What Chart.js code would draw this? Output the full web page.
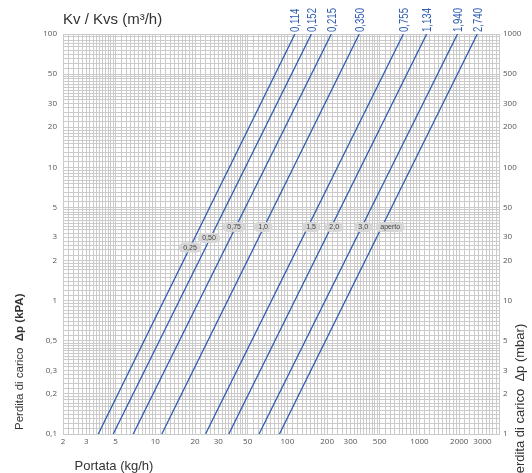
<!DOCTYPE html>
<html>
<head>
<meta charset="utf-8">
<script src="https://cdn.jsdelivr.net/npm/chart.js@4"></script>
<style>
  body { margin: 0; background: #fff; }
  #wrap { width: 532px; height: 473px; }
</style>
</head>
<body>
<div id="wrap"><canvas id="grafico" width="532" height="473"></canvas></div>
<script>
// Kv delle curve (etichette in alto) e portata letta agli estremi del grafico
const kvLabels = ["0,114", "0,152", "0,215", "0,350", "0,755", "1,134", "1,940", "2,740"];
const portataA01kPa = [3.7, 4.8, 6.8, 11.2, 24, 36, 61, 87];        // Δp = 0,1 kPa
const portataA100kPa = [114, 152, 215, 350, 755, 1134, 1940, 2740]; // Δp = 100 kPa

// posizioni del detentore (etichette grigie)
const posLabels = ["0,25", "0,50", "0,75", "1,0", "1,5", "2,0", "3,0", "aperto"];
const posPortata = [18.3, 25.5, 39.5, 65.5, 151, 226, 375, 600];
const posDp = [2.5, 2.95, 3.57, 3.57, 3.57, 3.57, 3.57, 3.57];

// etichette degli assi
const xTickLabels = [2, 3, 5, 10, 20, 30, 50, 100, 200, 300, 500, 1000, 2000, 3000];
const yTickLabels = [0.1, 0.2, 0.3, 0.5, 1, 2, 3, 5, 10, 20, 30, 50, 100];
const y1TickLabels = [1, 2, 3, 5, 10, 20, 30, 50, 100, 200, 300, 500, 1000];

const BLU = "#2f5db0";
const GRIGLIA = "#cbcbcb";

// linee della griglia: 1-2 ogni 0,1 / 2-5 ogni 0,2 / 5-10 ogni 0,5
function valoriGriglia(min, max) {
  const mant = [];
  for (let m = 10; m < 20; m += 1) mant.push(m);
  for (let m = 20; m < 50; m += 2) mant.push(m);
  for (let m = 50; m < 100; m += 5) mant.push(m);
  const out = [];
  for (let e = Math.floor(Math.log10(min)) - 1; e <= Math.ceil(Math.log10(max)); e++) {
    mant.forEach(m => {
      const v = Number((m * Math.pow(10, e - 1)).toPrecision(6));
      if (v >= min - 1e-9 && v <= max + 1e-9) out.push(v);
    });
  }
  return out;
}

function fmt(v) {
  return String(v).replace(".", ",");
}

function tickCallback(lista) {
  return function (value) {
    const v = Number(Number(value).toPrecision(6));
    return lista.includes(v) ? fmt(v) : "";
  };
}

const datasets = kvLabels.map((kv, i) => ({
  label: kv,
  data: [
    { x: portataA01kPa[i], y: 0.1 },
    { x: portataA100kPa[i], y: 100 }
  ],
  borderColor: BLU,
  borderWidth: 1.3,
  pointRadius: 0,
  fill: false,
  tension: 0,
  xAxisID: "x",
  yAxisID: "y"
}));

// testi extra: titoli, valori Kv, etichette posizione
const testiPlugin = {
  id: "testi",
  afterDatasetsDraw(chart) {
    const ctx = chart.ctx;
    const sx = chart.scales.x;
    const sy = chart.scales.y;
    const area = chart.chartArea;

    ctx.save();
    // etichette posizione
    ctx.font = "7px 'Liberation Sans', Arial, sans-serif";
    ctx.textAlign = "center";
    ctx.textBaseline = "middle";
    posLabels.forEach((t, i) => {
      const px = sx.getPixelForValue(posPortata[i]);
      const py = sy.getPixelForValue(posDp[i]);
      const w = ctx.measureText(t).width + 9;
      const h = 10;
      ctx.fillStyle = "#d6d6d6";
      ctx.beginPath();
      ctx.roundRect(px - w / 2, py - h / 2, w, h, 5);
      ctx.fill();
      ctx.fillStyle = "#444";
      ctx.fillText(t, px, py + 0.5);
    });

    // valori Kv in alto (testo stretto)
    ctx.fillStyle = BLU;
    ctx.font = "13px 'Liberation Sans', Arial, sans-serif";
    ctx.textAlign = "left";
    ctx.textBaseline = "middle";
    kvLabels.forEach((t, i) => {
      const px = sx.getPixelForValue(portataA100kPa[i]);
      ctx.save();
      ctx.translate(px + 1, area.top - 2);
      ctx.rotate(-Math.PI / 2);
      ctx.scale(0.74, 1);
      ctx.fillText(t, 0, 0);
      ctx.restore();
    });

    // titolo Kv / Kvs
    ctx.fillStyle = "#333";
    ctx.font = "15px 'Liberation Sans', Arial, sans-serif";
    ctx.textAlign = "left";
    ctx.textBaseline = "alphabetic";
    ctx.fillText("Kv / Kvs (m³/h)", 63, 24);

    // titolo asse x
    ctx.font = "13px 'Liberation Sans', Arial, sans-serif";
    ctx.textAlign = "center";
    ctx.fillText("Portata (kg/h)", 114, 470);

    // titolo asse y sinistro (parte in grassetto)
    ctx.save();
    ctx.translate(23, 430);
    ctx.rotate(-Math.PI / 2);
    ctx.textAlign = "left";
    ctx.font = "11.5px 'Liberation Sans', Arial, sans-serif";
    const t1 = "Perdita di carico  ";
    ctx.fillText(t1, 0, 0);
    const w1 = ctx.measureText(t1).width;
    ctx.font = "bold 11.5px 'Liberation Sans', Arial, sans-serif";
    ctx.fillText("Δp (kPA)", w1, 0);
    ctx.restore();

    // titolo asse y destro (tagliato in basso come nell'originale)
    ctx.save();
    ctx.translate(524, 482);
    ctx.rotate(-Math.PI / 2);
    ctx.textAlign = "left";
    ctx.font = "13px 'Liberation Sans', Arial, sans-serif";
    ctx.fillText("Perdita di carico  Δp (mbar)", 0, 0);
    ctx.restore();

    ctx.restore();
  }
};

const fontTick = { family: "'Open Sans', 'DejaVu Sans', sans-serif", size: 8 };

new Chart(document.getElementById("grafico").getContext("2d"), {
  type: "line",
  data: { datasets },
  options: {
    responsive: false,
    animation: false,
    layout: { padding: { top: 34, left: 0, right: 0, bottom: 0 } },
    plugins: {
      legend: { display: false },
      tooltip: { enabled: false }
    },
    scales: {
      x: {
        type: "logarithmic",
        min: 2,
        max: 4000,
        afterBuildTicks: s => { s.ticks = valoriGriglia(2, 4000).map(v => ({ value: v })); },
        afterFit: s => { s.height = 39; },
        ticks: {
          autoSkip: false,
          maxRotation: 0,
          color: "#555",
          font: fontTick,
          padding: 3,
          callback: tickCallback(xTickLabels)
        },
        grid: { color: GRIGLIA, lineWidth: 1, drawTicks: false },
        border: { color: GRIGLIA }
      },
      y: {
        type: "logarithmic",
        position: "left",
        min: 0.1,
        max: 100,
        afterBuildTicks: s => { s.ticks = valoriGriglia(0.1, 100).map(v => ({ value: v })); },
        afterFit: s => { s.width = 63; },
        ticks: {
          autoSkip: false,
          color: "#555",
          font: fontTick,
          padding: 6,
          callback: tickCallback(yTickLabels)
        },
        grid: { color: GRIGLIA, lineWidth: 1, drawTicks: false },
        border: { color: GRIGLIA }
      },
      y1: {
        type: "logarithmic",
        position: "right",
        min: 1,
        max: 1000,
        afterBuildTicks: s => { s.ticks = valoriGriglia(1, 1000).map(v => ({ value: v })); },
        afterFit: s => { s.width = 33; },
        ticks: {
          autoSkip: false,
          color: "#555",
          font: fontTick,
          padding: 4,
          callback: tickCallback(y1TickLabels)
        },
        grid: { display: false, drawTicks: false },
        border: { color: GRIGLIA }
      }
    }
  },
  plugins: [testiPlugin]
});
</script>
</body>
</html>
